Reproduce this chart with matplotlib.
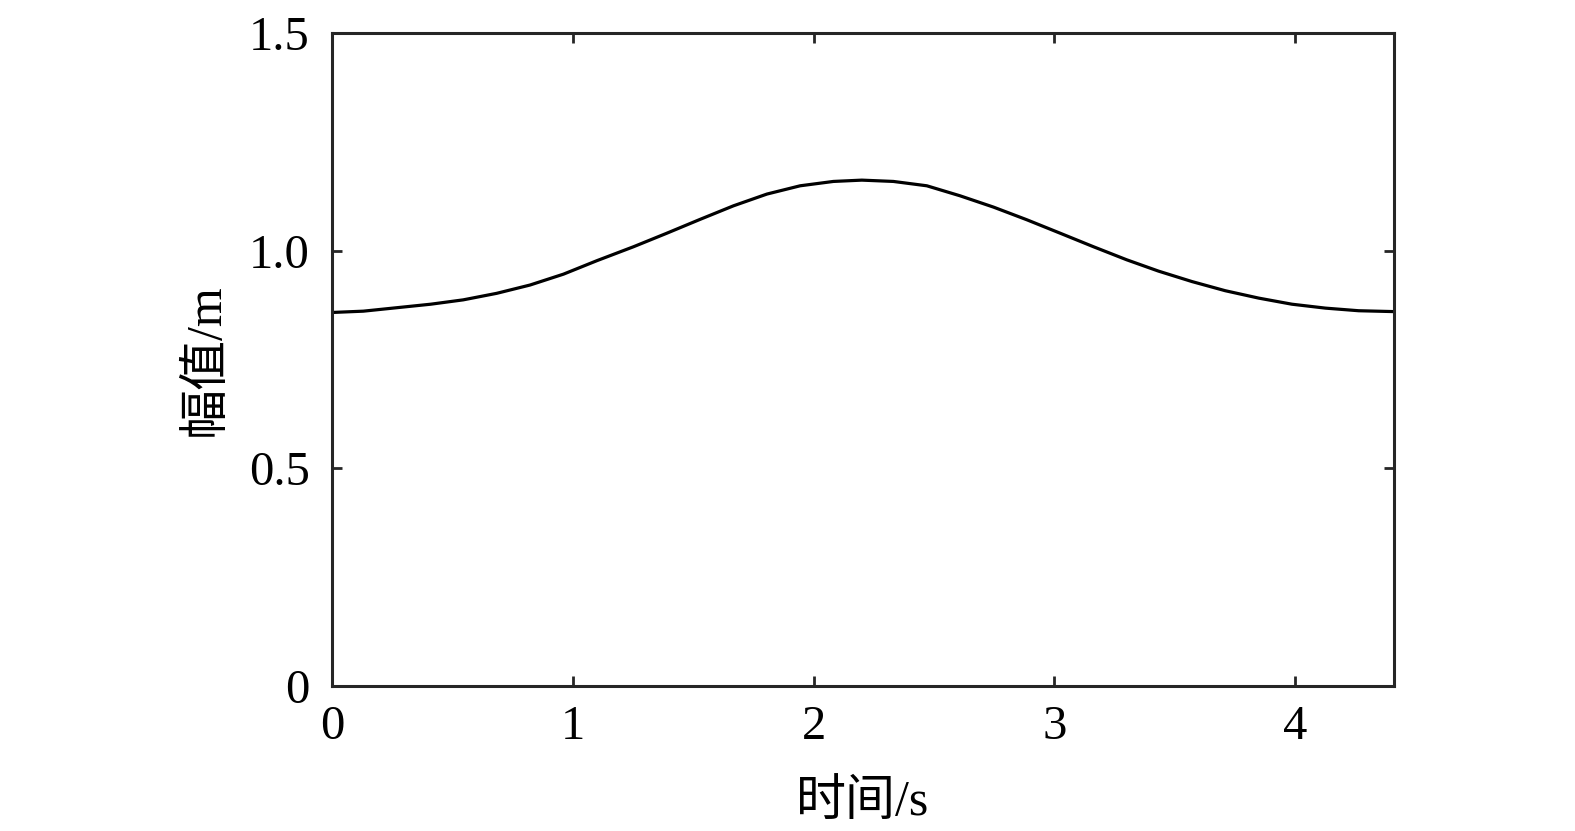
import matplotlib
matplotlib.use('Agg')
import matplotlib.pyplot as plt

# Values
time_s = [0.0, 0.13, 0.27, 0.41, 0.545, 0.684, 0.822, 0.961, 1.10, 1.252,
          1.39, 1.529, 1.667, 1.806, 1.944, 2.082, 2.20, 2.331, 2.47, 2.608,
          2.747, 2.885, 3.024, 3.162, 3.30, 3.432, 3.571, 3.709, 3.848, 3.986,
          4.125, 4.263, 4.41]
amplitude_m = [0.858, 0.861, 0.869, 0.877, 0.887, 0.902, 0.921, 0.946, 0.977, 1.009,
               1.040, 1.072, 1.103, 1.130, 1.149, 1.159, 1.162, 1.159, 1.149, 1.126,
               1.100, 1.071, 1.040, 1.009, 0.979, 0.953, 0.929, 0.908, 0.891, 0.877,
               0.868, 0.862, 0.860]

x_ticks = [0, 1, 2, 3, 4]
y_ticks = [0, 0.5, 1.0, 1.5]
y_tick_labels = ['0', '0.5', '1.0', '1.5']

plt.rcParams['font.family'] = ['Liberation Serif', 'Noto Sans CJK SC']

fig = plt.figure(figsize=(15.75, 8.31), dpi=100)
ax = fig.add_axes([0.2108, 0.1745, 0.6743, 0.7858])

ax.plot(time_s, amplitude_m, color='black', linewidth=2.3)

ax.set_xlim(0, 4.41)
ax.set_ylim(0, 1.5)
ax.set_xticks(x_ticks)
ax.set_xticklabels([str(v) for v in x_ticks])
ax.set_yticks(y_ticks)
ax.set_yticklabels(y_tick_labels)

ax.tick_params(direction='in', length=7, width=2, color='#262626',
               top=True, right=True, labelsize=35)
ax.tick_params(axis='x', pad=14)
ax.tick_params(axis='y', pad=16)
for sp in ax.spines.values():
    sp.set_linewidth(2.2)
    sp.set_color('#262626')

ax.set_xlabel('时间/s', fontsize=36, labelpad=22, fontweight='medium')
ax.set_ylabel('幅值/m', fontsize=36, labelpad=14, fontweight='medium')

fig.savefig('out.png', dpi=100)
